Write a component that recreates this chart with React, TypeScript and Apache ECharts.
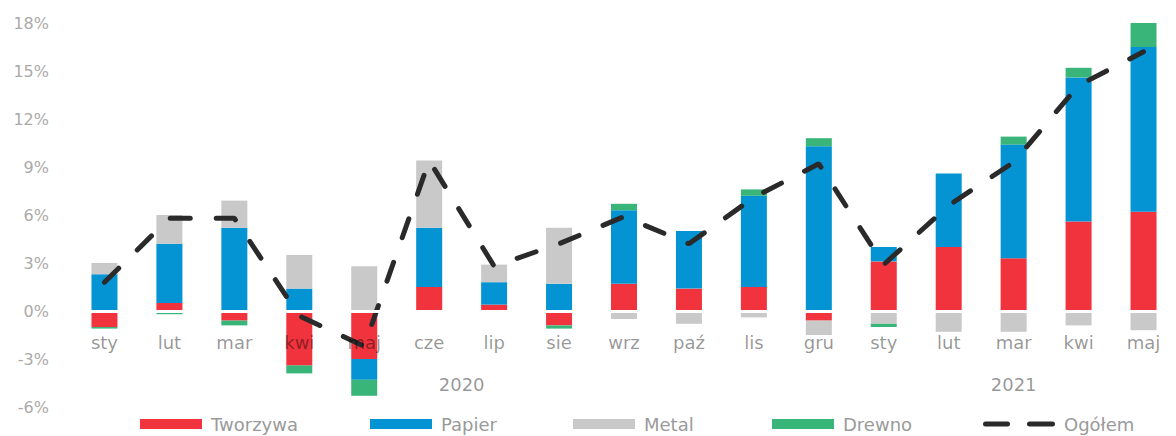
import React, { useEffect, useRef } from "react";
import * as echarts from "echarts";

const categories = ["sty", "lut", "mar", "kwi", "maj", "cze", "lip", "sie", "wrz", "paź", "lis", "gru", "sty", "lut", "mar", "kwi", "maj"];
const years = ["2020", "2021"];
const yearSpans = [[0, 11], [12, 16]];
const yearLabelValue = -4.6;

const tworzywa = [-1.0, 0.5, -0.6, -3.4, -3.0, 1.5, 0.4, -0.9, 1.7, 1.4, 1.5, -0.6, 3.1, 4.0, 3.3, 5.6, 6.2];
const papier = [2.3, 3.7, 5.2, 1.4, -1.3, 3.7, 1.4, 1.7, 4.6, 3.6, 5.7, 10.3, 0.9, 4.6, 7.1, 9.0, 10.3];
const metal = [0.7, 1.8, 1.7, 2.1, 2.8, 4.2, 1.1, 3.5, -0.5, -0.8, -0.4, -0.9, -0.8, -1.3, -1.3, -0.9, -1.2];
const drewno = [-0.1, -0.2, -0.3, -0.5, -1.0, 0, -0.1, -0.2, 0.4, 0, 0.4, 0.5, -0.2, 0, 0.5, 0.6, 1.5];
const ogolem = [1.8, 5.8, 5.8, -0.3, -2.2, 9.4, 2.8, 4.2, 5.9, 4.2, 7.1, 9.2, 2.9, 6.6, 9.3, 14.1, 16.2];

const FONT = "'DejaVu Sans', sans-serif";
const LABEL_COLOR = "rgba(0,0,0,0.42)";
const DASH_ICON =
  "path://M2.5,0 H24.5 A2.5,2.5 0 0 1 24.5,5 H2.5 A2.5,2.5 0 0 1 2.5,0 Z M46.5,0 H69.5 A2.5,2.5 0 0 1 69.5,5 H46.5 A2.5,2.5 0 0 1 46.5,0 Z";

export default function App() {
  const ref = useRef<HTMLDivElement>(null);
  useEffect(() => {
    if (!ref.current) return;
    const chart = echarts.init(ref.current, null, { renderer: "svg" });
    const barSeries = [
      { name: "Tworzywa", data: tworzywa, color: "#F1333D" },
      { name: "Papier", data: papier, color: "#0493D3" },
      { name: "Metal", data: metal, color: "#C9C9C9" },
      { name: "Drewno", data: drewno, color: "#3AB57A" },
    ];
    const legendLefts = [140, 370, 573, 772];
    const legendText = { fontSize: 18, fontFamily: FONT, color: "#9a9a9a", padding: [0, 0, 0, 4] };
    const option: any = {
      animation: false,
      grid: { left: 72, top: 23, width: 1117, height: 384 },
      xAxis: {
        type: "category",
        data: categories,
        z: 10,
        axisLine: { show: true, onZero: true, lineStyle: { color: "#ffffff", width: 3 } },
        axisTick: { show: false },
        splitLine: { show: false },
        axisLabel: { interval: 0, margin: -74, fontSize: 18, fontFamily: FONT, color: LABEL_COLOR },
      },
      yAxis: {
        type: "value",
        min: -6,
        max: 18,
        interval: 3,
        axisLine: { show: false },
        axisTick: { show: false },
        splitLine: { show: false },
        axisLabel: {
          formatter: (v: number) => `${v}%`,
          margin: 23,
          fontSize: 16,
          fontFamily: FONT,
          color: "#aaaaaa",
        },
      },
      legend: [
        ...barSeries.map((s, i) => ({
          data: [s.name],
          left: legendLefts[i],
          top: 415,
          padding: 0,
          icon: "rect",
          itemWidth: 62,
          itemHeight: 10,
          textStyle: legendText,
        })),
        {
          data: [{ name: "Ogółem", icon: DASH_ICON }],
          left: 983,
          top: 415,
          padding: 0,
          itemWidth: 72,
          itemHeight: 5,
          itemStyle: { color: "#2a2a2a", borderWidth: 0 },
          lineStyle: { width: 0, opacity: 0 },
          textStyle: legendText,
        },
      ],
      series: [
        ...barSeries.map((s) => ({
          name: s.name,
          type: "bar",
          stack: "total",
          barWidth: 26,
          data: s.data,
          itemStyle: { color: s.color },
          z: 2,
        })),
        {
          name: "Ogółem",
          type: "line",
          data: ogolem,
          symbol: "none",
          z: 5,
          itemStyle: { color: "#2a2a2a" },
          lineStyle: { color: "#2a2a2a", width: 5, type: [20, 26], cap: "round" },
        },
      ],
    };
    chart.setOption(option);
    const px = (i: number) => chart.convertToPixel({ xAxisIndex: 0 }, i) as number;
    const yy = chart.convertToPixel({ yAxisIndex: 0 }, yearLabelValue) as number;
    chart.setOption({
      graphic: years.map((yr, k) => ({
        type: "text",
        x: (px(yearSpans[k][0]) + px(yearSpans[k][1])) / 2,
        y: yy,
        style: {
          text: yr,
          fill: LABEL_COLOR,
          font: `18px ${FONT}`,
          align: "center",
          verticalAlign: "middle",
          textAlign: "center",
          textVerticalAlign: "middle",
        },
      })),
    });
    return () => chart.dispose();
  }, []);
  return (
    <div
      ref={ref}
      style={{ position: "absolute", left: 0, top: 0, width: 1176, height: 436, background: "#fff" }}
    />
  );
}
